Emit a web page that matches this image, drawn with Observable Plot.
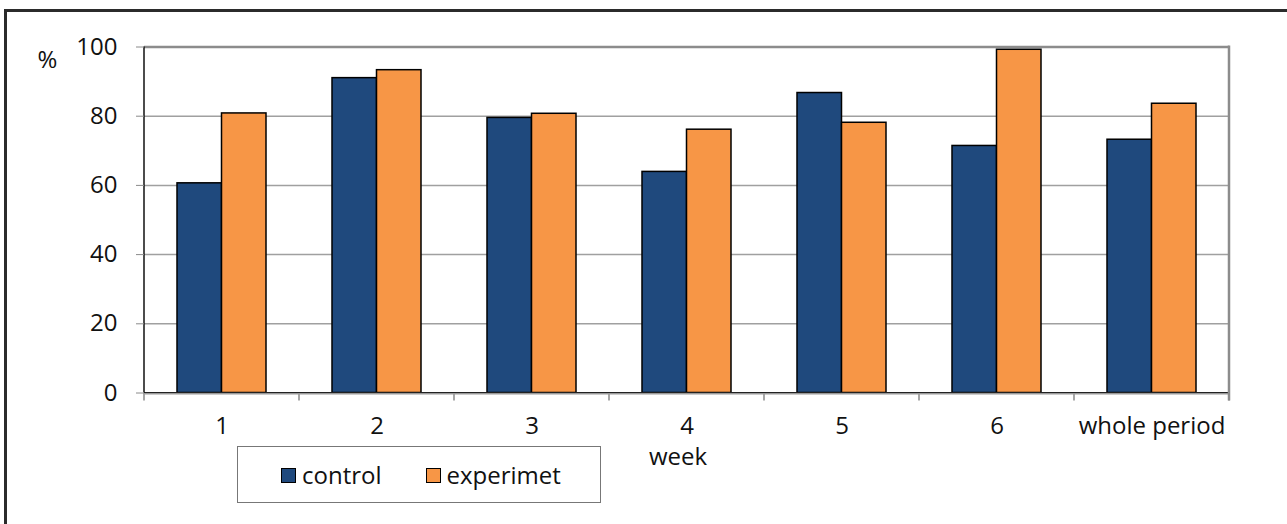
<!DOCTYPE html>
<html>
<head>
<meta charset="utf-8">
<script src="https://cdn.jsdelivr.net/npm/d3@7"></script>
<script src="https://cdn.jsdelivr.net/npm/@observablehq/plot@0.6"></script>
<style>
  html, body { margin: 0; padding: 0; background: #fff; overflow: hidden; }
  #wrap { position: relative; width: 1287px; height: 524px; overflow: hidden; font-family: "Open Sans", sans-serif; color: #111; }
  #border { position: absolute; left: 4px; top: 9px; width: 1400px; height: 700px; border: 3px solid #2b2b2b; box-sizing: border-box; }
  #chart { position: absolute; left: 0; top: 0; }
  #legend { position: absolute; left: 237px; top: 446px; width: 364px; height: 57px; box-sizing: border-box;
            border: 1px solid #777; background: #fff; display: flex; align-items: center; padding-left: 43px; font-size: 24px; }
  .item { display: flex; align-items: center; }
  .item + .item { margin-left: 44px; }
  .sw { width: 13px; height: 13px; border: 1.5px solid #000; margin-right: 6px; margin-top: 2px; }
</style>
</head>
<body>
<div id="wrap">
  <div id="border"></div>
  <div id="chart"></div>
  <div id="legend"></div>
</div>
<script>
// ---- data ----
const weeks = ["1", "2", "3", "4", "5", "6", "whole period"];
const control = [60.6, 91.0, 79.5, 63.9, 86.7, 71.4, 73.2];
const experiment = [80.8, 93.3, 80.7, 76.1, 78.1, 99.2, 83.6];
const seriesNames = ["control", "experimet"];
const seriesColors = ["#1f497d", "#f79646"];
const yTicks = [0, 20, 40, 60, 80, 100];
const xLabel = "week";
const yLabel = "%";

const rows = [];
weeks.forEach((w, i) => {
  rows.push({week: w, series: seriesNames[0], value: control[i]});
  rows.push({week: w, series: seriesNames[1], value: experiment[i]});
});

// frame lines and band-boundary ticks drawn from the scales
function frameLines(index, {x, y}) {
  const bw = x.bandwidth();
  const y0 = y(0), yTop = y(100);
  const x0 = x(weeks[0]);
  const xN = x(weeks[weeks.length - 1]) + bw;
  const bounds = weeks.map(w => x(w)).concat([xN]);
  const g = d3.create("svg:g");
  g.selectAll("line.t").data(bounds).join("line")
    .attr("x1", d => d).attr("x2", d => d)
    .attr("y1", y0).attr("y2", y0 + 8)
    .attr("stroke", "#8a8a8a").attr("stroke-width", 1.5);
  g.append("line").attr("x1", x0).attr("x2", xN).attr("y1", y0 + 1).attr("y2", y0 + 1)
    .attr("stroke", "#999").attr("stroke-width", 2);
  g.append("line").attr("x1", x0).attr("x2", xN).attr("y1", y0).attr("y2", y0)
    .attr("stroke", "#222").attr("stroke-width", 1);
  g.append("line").attr("x1", xN).attr("x2", xN).attr("y1", yTop - 1).attr("y2", y0 + 8)
    .attr("stroke", "#8c8c8c").attr("stroke-width", 2.5);
  g.append("line").attr("x1", x0).attr("x2", x0).attr("y1", yTop).attr("y2", y0)
    .attr("stroke", "#111").attr("stroke-width", 1.5);
  return g.node();
}

const chart = Plot.plot({
  width: 1287,
  height: 524,
  marginLeft: 144,
  marginRight: 58,
  marginTop: 46.5,
  marginBottom: 131.5,
  style: { fontFamily: "'Open Sans', sans-serif", fontSize: "24px", color: "#111", background: "transparent" },
  x: { domain: weeks, padding: 0 },
  y: { domain: [0, 100] },
  color: { domain: seriesNames, range: seriesColors },
  marks: [
    Plot.ruleY(yTicks.filter(v => v > 0 && v < 100), { stroke: "#a0a0a0", strokeWidth: 1.5 }),
    Plot.ruleY([100], { stroke: "#8c8c8c", strokeWidth: 2.5 }),
    Plot.barY(rows.filter(d => d.series === seriesNames[0]), {
      x: "week", y: "value", fill: "series", stroke: "#000", strokeWidth: 1.5,
      insetLeft: 33, insetRight: 77.5
    }),
    Plot.barY(rows.filter(d => d.series === seriesNames[1]), {
      x: "week", y: "value", fill: "series", stroke: "#000", strokeWidth: 1.5,
      insetLeft: 77.5, insetRight: 33
    }),
    frameLines,
    Plot.axisY({ ticks: yTicks, tickSize: 8, tickPadding: 19, stroke: "#8a8a8a", label: null }),
    Plot.axisX({ tickSize: 0, tickPadding: 24, label: null }),
    Plot.text([xLabel], { frameAnchor: "bottom", text: d => d, dx: -9, dy: 64, lineAnchor: "middle", textAnchor: "middle" }),
    Plot.text([yLabel], { frameAnchor: "top-left", text: d => d, dx: -97, dy: 13, lineAnchor: "middle", textAnchor: "middle" })
  ]
});
document.getElementById("chart").appendChild(chart);

// legend
const legend = d3.select("#legend");
seriesNames.forEach((name, i) => {
  const item = legend.append("div").attr("class", "item");
  item.append("div").attr("class", "sw").style("background", seriesColors[i]);
  item.append("span").text(name);
});
</script>
</body>
</html>
